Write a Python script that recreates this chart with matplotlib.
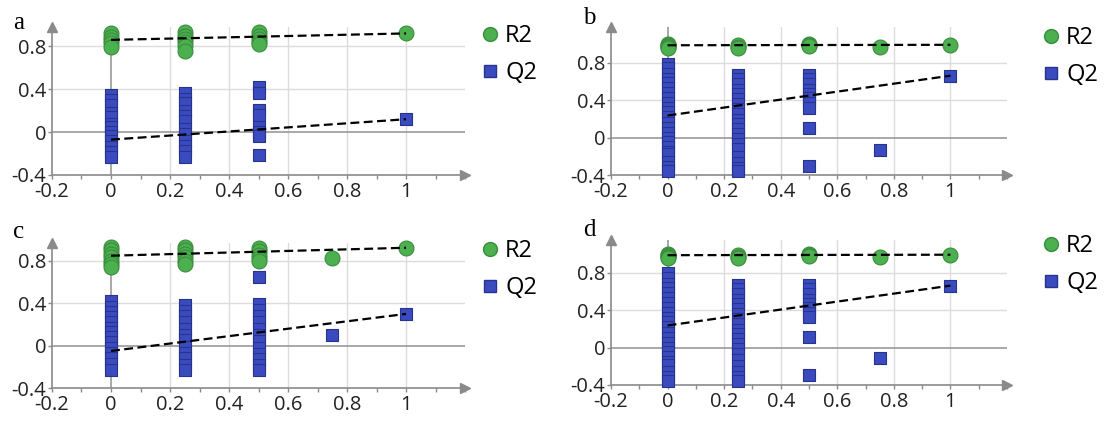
import matplotlib
matplotlib.use("Agg")
import matplotlib.pyplot as plt
from matplotlib.lines import Line2D
from matplotlib.ticker import MultipleLocator, FuncFormatter

plt.rcParams['font.family'] = ['Open Sans', 'DejaVu Sans']
plt.rcParams['axes.unicode_minus'] = False

# permutation test values (x = correlation with original y)
a_r2 = {0: [0.92, 0.89, 0.86, 0.83, 0.79], 0.25: [0.93, 0.9, 0.87, 0.84, 0.8, 0.76],
        0.5: [0.93, 0.9, 0.87, 0.84, 0.82], 1: [0.92]}
a_q2 = {0: [0.35, 0.3, 0.25, 0.18, 0.14, 0.08, 0.05, 0.0, -0.04, -0.08, -0.14, -0.19, -0.23],
        0.25: [0.36, 0.31, 0.27, 0.2, 0.15, 0.1, 0.03, -0.02, -0.08, -0.13, -0.18, -0.23],
        0.5: [0.42, 0.36, 0.21, 0.16, 0.05, 0.0, -0.04, -0.21], 1: [0.12]}
a_icpt = (0.86, -0.07)

b_r2 = {0: [1.0, 0.99, 0.98, 0.97, 0.96], 0.25: [0.99, 0.97, 0.955],
        0.5: [1.0, 0.99, 0.98], 0.75: [0.97], 1: [0.99]}
b_q2 = {0: [0.79, 0.74, 0.68, 0.63, 0.58, 0.53, 0.48, 0.42, 0.37, 0.32, 0.27, 0.22, 0.16, 0.1,
            0.05, 0.0, -0.05, -0.1, -0.15, -0.18, -0.26, -0.31, -0.36],
        0.25: [0.67, 0.62, 0.57, 0.51, 0.46, 0.41, 0.36, 0.3, 0.25, 0.19, 0.14, 0.09, 0.04,
               -0.02, -0.07, -0.12, -0.21, -0.27, -0.32, -0.36],
        0.5: [0.67, 0.62, 0.57, 0.51, 0.46, 0.42, 0.37, 0.32, 0.1, -0.3], 0.75: [-0.13], 1: [0.66]}
b_icpt = (0.985, 0.235)

c_r2 = {0: [0.93, 0.9, 0.87, 0.84, 0.8, 0.77, 0.74], 0.25: [0.93, 0.9, 0.87, 0.84, 0.8, 0.77],
        0.5: [0.92, 0.89, 0.86, 0.83, 0.8], 0.75: [0.83], 1: [0.925]}
c_q2 = {0: [0.42, 0.37, 0.32, 0.27, 0.22, 0.17, 0.13, 0.08, 0.03, -0.02, -0.07, -0.12, -0.17, -0.23],
        0.25: [0.38, 0.33, 0.28, 0.22, 0.16, 0.1, 0.05, -0.01, -0.07, -0.12, -0.18, -0.23],
        0.5: [0.65, 0.39, 0.34, 0.28, 0.22, 0.16, 0.1, 0.04, -0.02, -0.08, -0.13, -0.18, -0.23],
        0.75: [0.1], 1: [0.3]}
c_icpt = (0.85, -0.05)

d_r2 = {0: [1.0, 0.99, 0.98, 0.97, 0.96], 0.25: [0.99, 0.97, 0.955],
        0.5: [1.0, 0.99, 0.98], 0.75: [0.965], 1: [0.99]}
d_q2 = {0: [0.79, 0.74, 0.68, 0.63, 0.58, 0.53, 0.48, 0.42, 0.37, 0.32, 0.27, 0.22, 0.16, 0.1,
            0.05, 0.0, -0.05, -0.1, -0.15, -0.19, -0.26, -0.31, -0.36],
        0.25: [0.67, 0.62, 0.57, 0.51, 0.46, 0.41, 0.36, 0.3, 0.25, 0.19, 0.14, 0.09, 0.04,
               -0.02, -0.07, -0.13, -0.2, -0.26, -0.31, -0.36],
        0.5: [0.67, 0.62, 0.57, 0.51, 0.46, 0.42, 0.37, 0.33, 0.11, -0.29], 0.75: [-0.11], 1: [0.66]}
d_icpt = (0.985, 0.235)

x_ticks = [-0.2, 0, 0.2, 0.4, 0.6, 0.8, 1]
y_ticks = [-0.4, 0, 0.4, 0.8]

green, green_edge = '#4cb04f', '#3a8c3c'
blue, blue_edge = '#3a4bbf', '#28348c'
axis_gray = '#8a8a8a'

fig = plt.figure(figsize=(11.05, 4.21), dpi=100)

def px(x, y):
    return x / 1105, 1 - y / 421

panels = [
    ('a', a_r2, a_q2, a_icpt, [52, 27, 465, 175], 0.98, (13, 29), (478, 24)),
    ('b', b_r2, b_q2, b_icpt, [611, 27, 1007, 175], 1.18, (583, 24), (1039, 26)),
    ('c', c_r2, c_q2, c_icpt, [52, 243, 465, 388], 0.97, (13, 238), (478, 239)),
    ('d', d_r2, d_q2, d_icpt, [611, 240, 1007, 385], 1.147, (583, 236), (1039, 234)),
]

for letter, r2, q2, icpt, box, ytop, lpos, legpos in panels:
    x0, y0, x1, y1 = box
    ax = fig.add_axes([x0 / 1105, 1 - y1 / 421, (x1 - x0) / 1105, (y1 - y0) / 421])
    ax.set_xlim(-0.2, 1.2)
    ax.set_ylim(-0.4, ytop)

    for sp in ['top', 'right']:
        ax.spines[sp].set_visible(False)
    for sp in ['left', 'bottom']:
        ax.spines[sp].set_color(axis_gray)
        ax.spines[sp].set_linewidth(1.2)
    ax.plot(1, 0, '>', color=axis_gray, ms=7, transform=ax.transAxes, clip_on=False)
    ax.plot(0, 1, '^', color=axis_gray, ms=7, transform=ax.transAxes, clip_on=False)

    for gx in [0.2, 0.4, 0.6, 0.8, 1.0]:
        ax.axvline(gx, color='#dcdcdc', lw=1, zorder=0)
    for gy in [0.4, 0.8]:
        ax.axhline(gy, color='#dcdcdc', lw=1, zorder=0)
    ax.axvline(0, color='#9a9a9a', lw=1.2, zorder=0)
    ax.axhline(0, color='#9a9a9a', lw=1.2, zorder=0)

    ax.set_xticks(x_ticks)
    ax.set_yticks(y_ticks)
    ax.xaxis.set_minor_locator(MultipleLocator(0.1))
    fmt = FuncFormatter(lambda v, p: f"{v:g}")
    ax.xaxis.set_major_formatter(fmt)
    ax.yaxis.set_major_formatter(fmt)
    ax.tick_params(axis='both', which='both', colors=axis_gray, labelcolor='#222222',
                   labelsize=14.5, length=3, width=1)
    ax.tick_params(axis='x', pad=2)
    ax.tick_params(axis='y', pad=1)

    for xv, vals in r2.items():
        ax.scatter([xv] * len(vals), vals, s=115, marker='o', color=green,
                   edgecolors=green_edge, linewidths=0.8, zorder=3, clip_on=False)
    for xv, vals in q2.items():
        ax.scatter([xv] * len(vals), vals, s=68, marker='s', color=blue,
                   edgecolors=blue_edge, linewidths=0.8, zorder=3, clip_on=False)

    ax.plot([0, 1], [icpt[0], r2[1][0]], '--', color='black', lw=1.6, dashes=(4, 2), zorder=4)
    ax.plot([0, 1], [icpt[1], q2[1][0]], '--', color='black', lw=1.6, dashes=(4, 2), zorder=4)

    fx, fy = px(*lpos)
    fig.text(fx, fy, letter, family=['Liberation Serif', 'DejaVu Serif'], fontsize=18,
             ha='left', va='baseline')

    handles = [Line2D([], [], ls='none', marker='o', ms=10, color=green, mec=green_edge),
               Line2D([], [], ls='none', marker='s', ms=8, color=blue, mec=blue_edge)]
    fig.legend(handles, ['R2', 'Q2'], loc='upper left', bbox_to_anchor=px(*legpos),
               frameon=False, fontsize=17, handletextpad=0.15, handlelength=1.0,
               labelspacing=0.55, borderaxespad=0, borderpad=0)

fig.savefig('out.png', dpi=100)
